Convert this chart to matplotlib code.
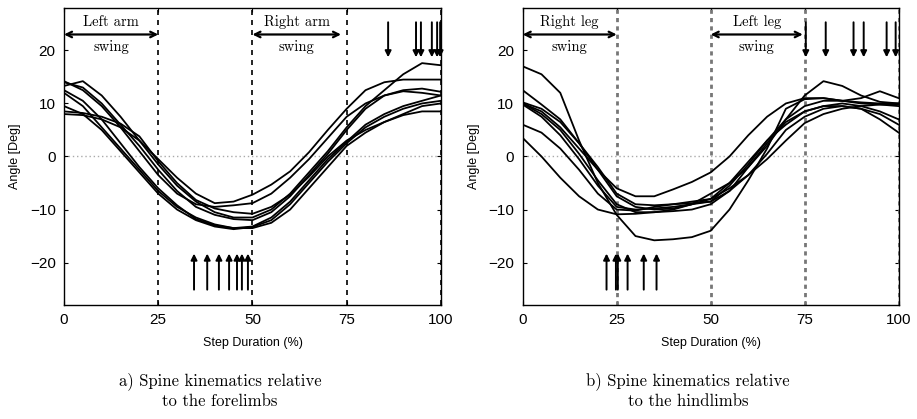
import numpy as np
import matplotlib
matplotlib.use("Agg")
import matplotlib.pyplot as plt

# step duration samples (%)
step = [0, 5, 10, 15, 20, 25, 30, 35, 40, 45, 50, 55, 60, 65, 70, 75, 80, 85, 90, 95, 100]

# a) spine angle relative to the forelimbs (deg)
fore = [
    [8.0, 7.8, 7.0, 5.5, 3.0, -0.5, -4.0, -7.0, -8.8, -8.5, -7.2, -5.3, -2.8, 0.8, 5.0, 9.0, 12.5, 14.0, 14.5, 14.5, 14.5],
    [8.5, 8.2, 7.5, 6.2, 3.8, -0.9, -5.0, -8.2, -9.8, -10.5, -10.8, -9.5, -7.2, -3.8, 0.0, 3.0, 5.0, 6.5, 7.8, 8.5, 8.5],
    [14.2, 12.5, 9.5, 5.5, 1.0, -3.5, -7.0, -9.0, -9.5, -9.2, -8.8, -7.0, -4.0, -0.5, 3.5, 7.5, 10.0, 11.5, 12.3, 12.0, 11.5],
    [13.3, 14.2, 11.5, 7.5, 3.0, -1.5, -5.5, -8.5, -10.5, -11.5, -11.5, -10.0, -7.0, -3.0, 1.0, 5.5, 9.5, 12.5, 15.5, 17.6, 17.2],
    [12.0, 9.5, 5.5, 1.5, -2.5, -6.5, -9.5, -11.5, -12.8, -13.5, -13.5, -12.5, -10.0, -6.0, -2.0, 2.0, 4.5, 6.5, 8.0, 9.5, 10.0],
    [12.5, 10.5, 7.0, 2.5, -2.0, -6.0, -9.2, -11.8, -13.0, -13.5, -13.2, -11.5, -8.5, -4.5, -0.5, 2.8, 6.0, 8.0, 9.5, 10.5, 11.5],
    [9.5, 8.0, 5.0, 1.0, -3.0, -7.0, -10.0, -12.0, -13.2, -13.7, -13.3, -12.0, -9.0, -5.0, -1.0, 2.5, 5.5, 7.5, 9.0, 10.0, 10.5],
    [14.0, 13.0, 10.0, 6.0, 2.0, -2.5, -6.5, -9.5, -11.0, -11.8, -12.0, -10.5, -7.5, -3.5, 0.5, 5.0, 9.0, 11.5, 12.5, 12.8, 12.2],
]

# b) spine angle relative to the hindlimbs (deg)
hind = [
    [17.0, 15.5, 12.0, 3.0, -5.0, -11.0, -15.0, -15.8, -15.6, -15.2, -14.0, -10.0, -4.5, 1.5, 9.0, 10.8, 11.0, 10.5, 10.0, 9.8, 9.5],
    [3.5, 0.0, -4.0, -7.5, -10.0, -10.9, -10.8, -10.5, -10.3, -10.0, -9.0, -6.5, -2.0, 2.5, 6.5, 8.5, 9.5, 10.0, 9.5, 8.5, 7.0],
    [12.5, 9.8, 7.0, 2.5, -2.5, -7.5, -9.5, -10.0, -9.8, -9.0, -7.0, -5.0, -2.0, 2.0, 7.0, 11.5, 14.2, 13.3, 11.5, 10.3, 10.0],
    [10.0, 8.5, 5.5, 1.5, -2.5, -6.0, -7.5, -7.5, -6.2, -4.8, -3.0, 0.0, 4.0, 7.5, 10.0, 11.0, 11.0, 10.5, 11.0, 12.3, 11.0],
    [10.0, 8.0, 5.0, 0.5, -4.5, -9.0, -10.5, -10.5, -10.0, -9.0, -8.0, -5.0, -1.0, 3.0, 6.0, 8.5, 9.5, 9.5, 9.0, 8.0, 6.0],
    [9.8, 7.5, 4.0, -0.5, -5.5, -9.5, -10.0, -9.8, -9.5, -9.0, -8.5, -6.5, -3.5, 0.5, 5.0, 7.5, 9.0, 9.5, 9.0, 7.0, 4.5],
    [6.0, 4.5, 1.5, -2.5, -7.0, -10.0, -10.2, -9.5, -9.0, -8.5, -8.0, -6.0, -3.5, -0.5, 3.0, 6.3, 8.0, 9.0, 9.5, 9.8, 9.8],
    [10.2, 9.0, 6.5, 2.5, -2.0, -7.0, -9.0, -9.2, -9.0, -8.8, -8.5, -5.5, -1.5, 3.0, 7.0, 9.5, 10.5, 10.5, 10.2, 10.0, 10.0],
]

# event arrows (% of step)
fore_down = [86.0, 93.4, 94.7, 97.6, 99.0, 99.8]
fore_up = [34.5, 38.0, 41.1, 43.8, 45.9, 47.2, 48.8]
hind_down = [75.3, 80.6, 88.0, 90.7, 96.8, 99.2]
hind_up = [22.3, 24.8, 25.3, 27.9, 32.2, 35.6]

fore_swing = [("Left arm", 0, 25), ("Right arm", 50, 73.5)]
hind_swing = [("Right leg", 0, 25), ("Left leg", 50, 74.5)]

captions = ["a) Spine kinematics relative\nto the forelimbs",
            "b) Spine kinematics relative\nto the hindlimbs"]

sans = "Liberation Sans"
serif = "cmr10"

fig = plt.figure(figsize=(9.17, 4.19), dpi=100)
ax1 = fig.add_axes([0.0698, 0.272, 0.411, 0.709])
ax2 = fig.add_axes([0.570, 0.272, 0.410, 0.709])


def draw_panel(ax, curves, down, up, swings, vcolor, vlw, vdash):
    for c in curves:
        ax.plot(step, c, color="k", lw=1.3, zorder=3)
    ax.axhline(0, color="#aaaaaa", lw=1.0, ls=(0, (1, 2)), zorder=1)
    for xv in [25, 50, 75, 100]:
        ax.axvline(xv, color=vcolor, lw=vlw, ls=(0, vdash), zorder=2)
    for xv in down:
        ax.annotate("", xy=(xv, 18.7), xytext=(xv, 25.3),
                    arrowprops=dict(arrowstyle="-|>", color="k", lw=1.4,
                                    mutation_scale=9, shrinkA=0, shrinkB=0))
    for xv in up:
        ax.annotate("", xy=(xv, -18.3), xytext=(xv, -25.1),
                    arrowprops=dict(arrowstyle="-|>", color="k", lw=1.4,
                                    mutation_scale=9, shrinkA=0, shrinkB=0))
    for label, x0, x1 in swings:
        ax.annotate("", xy=(x1, 23.0), xytext=(x0, 23.0),
                    arrowprops=dict(arrowstyle="<->", color="k", lw=1.6,
                                    mutation_scale=10, shrinkA=0, shrinkB=0))
        xc = (x0 + x1) / 2
        ax.text(xc, 25.3, label, family=serif, fontsize=10.5,
                ha="center", va="center")
        ax.text(xc, 20.6, "swing", family=serif, fontsize=10.5,
                ha="center", va="center")
    ax.set_xlim(0, 100)
    ax.set_ylim(-28, 28)
    ax.set_xticks([0, 25, 50, 75, 100])
    ax.set_yticks([-20, -10, 0, 10, 20])
    ax.tick_params(direction="in", length=3, top=True, right=True,
                   labelsize=11, pad=6)
    for t in ax.get_xticklabels() + ax.get_yticklabels():
        t.set_family(sans)
    ax.set_xlabel("Step Duration (%)", family=sans, fontsize=9, labelpad=7)
    ax.set_ylabel("Angle [Deg]", family=sans, fontsize=9, labelpad=6)
    for s in ax.spines.values():
        s.set_linewidth(1.0)


draw_panel(ax1, fore, fore_down, fore_up, fore_swing, "k", 1.2, (3, 3))
draw_panel(ax2, hind, hind_down, hind_up, hind_swing, "#777777", 2.0, (1.5, 1.5))

fig.text(220 / 917, 1 - 391 / 419, captions[0], family=serif, fontsize=12,
         ha="center", va="center", linespacing=1.3)
fig.text(688 / 917, 1 - 391 / 419, captions[1], family=serif, fontsize=12,
         ha="center", va="center", linespacing=1.3)

fig.savefig("out.png", dpi=100)
